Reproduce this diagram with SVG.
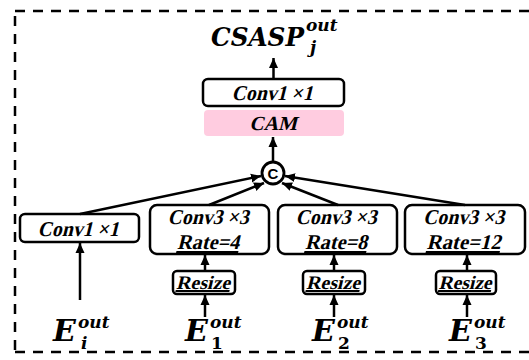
<svg xmlns="http://www.w3.org/2000/svg" width="529" height="360" viewBox="0 0 529 360">
<defs>
<marker id="ah" markerUnits="userSpaceOnUse" markerWidth="12" markerHeight="12" viewBox="0 0 12 12" refX="10" refY="6" orient="auto">
<path d="M0,1.5 L10,6 L0,10.5 Z" fill="#000"/>
</marker>
<style>
.frame{fill:none;stroke:#000;stroke-width:2.5;stroke-dasharray:10 8}
.box{fill:#fff;stroke:#000;stroke-width:2.5}
.ul{text-decoration:underline}
.conn{fill:none;stroke:#000;stroke-width:2.5;marker-end:url(#ah)}
</style>
</defs>
<rect width="529" height="360" fill="#fff"/>
<path class="frame" d="M15,11 H529"/>
<path class="frame" d="M15,352 H529"/>
<path class="frame" d="M15,16 V352"/>

<g font-family="DejaVu Serif" font-weight="bold" font-style="italic" fill="#000">
<g id="title">
<text x="211" y="46" font-size="26" textLength="93" lengthAdjust="spacingAndGlyphs">CSASP</text>
<text x="306" y="31" font-size="17">out</text>
<text x="310" y="53" font-size="17">j</text>
</g>
<g id="ei">
<text x="53" y="341" font-size="30">E</text>
<text x="78" y="328" font-size="17">out</text>
<text x="81" y="349" font-size="17">i</text>
</g>
<g id="e1">
<text x="185" y="341" font-size="30">E</text>
<text x="210" y="328" font-size="17">out</text>
<text x="211" y="349" font-size="17" font-style="normal">1</text>
</g>
<g id="e2">
<text x="312" y="341" font-size="30">E</text>
<text x="337" y="328" font-size="17">out</text>
<text x="338" y="349" font-size="17" font-style="normal">2</text>
</g>
<g id="e3">
<text x="449" y="341" font-size="30">E</text>
<text x="474" y="328" font-size="17">out</text>
<text x="475" y="349" font-size="17" font-style="normal">3</text>
</g>
</g>

<g font-family="Liberation Serif" font-weight="bold" font-size="21" text-anchor="middle" fill="#000">
<g id="conv-top">
<rect class="box" x="203" y="79" width="141" height="27" rx="5"/>
<text transform="translate(272,100) skewX(-14)" textLength="81" lengthAdjust="spacingAndGlyphs">Conv1 ×1</text>
</g>
<g id="cam">
<rect x="204" y="110" width="140" height="26" rx="4" fill="#ffcce0"/>
<text transform="translate(273,130) skewX(-14)" font-size="20">CAM</text>
</g>
<g id="conv1x1">
<rect class="box" x="20" y="214" width="119" height="28" rx="5"/>
<text transform="translate(78,236) skewX(-14)" textLength="81" lengthAdjust="spacingAndGlyphs">Conv1 ×1</text>
</g>
<g id="conv3-r4">
<rect class="box" x="150" y="205" width="119" height="49" rx="7"/>
<text transform="translate(208,224) skewX(-14)" textLength="81" lengthAdjust="spacingAndGlyphs">Conv3 ×3</text>
<text class="ul" transform="translate(208,249) skewX(-14)" textLength="62" lengthAdjust="spacingAndGlyphs">Rate=4</text>
</g>
<g id="conv3-r8">
<rect class="box" x="278" y="205" width="119" height="49" rx="7"/>
<text transform="translate(336,224) skewX(-14)" textLength="81" lengthAdjust="spacingAndGlyphs">Conv3 ×3</text>
<text class="ul" transform="translate(336,249) skewX(-14)" textLength="62" lengthAdjust="spacingAndGlyphs">Rate=8</text>
</g>
<g id="conv3-r12">
<rect class="box" x="405" y="205" width="120" height="49" rx="7"/>
<text transform="translate(463.5,224) skewX(-14)" textLength="81" lengthAdjust="spacingAndGlyphs">Conv3 ×3</text>
<text class="ul" transform="translate(463.5,249) skewX(-14)" textLength="74" lengthAdjust="spacingAndGlyphs">Rate=12</text>
</g>
<g id="resize1">
<rect class="box" x="173" y="271" width="62" height="23" rx="4"/>
<text class="ul" transform="translate(203,289) skewX(-14)" font-size="19" textLength="54" lengthAdjust="spacingAndGlyphs">Resize</text>
</g>
<g id="resize2">
<rect class="box" x="303" y="271" width="62" height="23" rx="4"/>
<text class="ul" transform="translate(333,289) skewX(-14)" font-size="19" textLength="54" lengthAdjust="spacingAndGlyphs">Resize</text>
</g>
<g id="resize3">
<rect class="box" x="436" y="271" width="60" height="23" rx="4"/>
<text class="ul" transform="translate(465,289) skewX(-14)" font-size="19" textLength="53" lengthAdjust="spacingAndGlyphs">Resize</text>
</g>
</g>

<g id="concat">
<circle cx="273" cy="173" r="11" fill="#fff" stroke="#000" stroke-width="2.8"/>
<text x="273" y="178.5" text-anchor="middle" font-family="Liberation Sans" font-weight="bold" font-size="15">C</text>
</g>

<g id="connectors">
<line class="conn" x1="273.5" y1="79" x2="273.5" y2="58"/>
<line class="conn" x1="273" y1="161" x2="273" y2="137"/>
<line class="conn" x1="80" y1="214" x2="261" y2="176"/>
<line class="conn" x1="209" y1="205" x2="264" y2="183"/>
<line class="conn" x1="338" y1="205" x2="282" y2="183"/>
<line class="conn" x1="465" y1="205" x2="285" y2="176"/>
<line class="conn" x1="80" y1="300" x2="80" y2="243"/>
<line class="conn" x1="205" y1="317" x2="205" y2="295"/>
<line class="conn" x1="205" y1="271" x2="205" y2="255"/>
<line class="conn" x1="334" y1="317" x2="334" y2="295"/>
<line class="conn" x1="334" y1="271" x2="334" y2="255"/>
<line class="conn" x1="467" y1="317" x2="467" y2="295"/>
<line class="conn" x1="467" y1="271" x2="467" y2="255"/>
</g>
</svg>
